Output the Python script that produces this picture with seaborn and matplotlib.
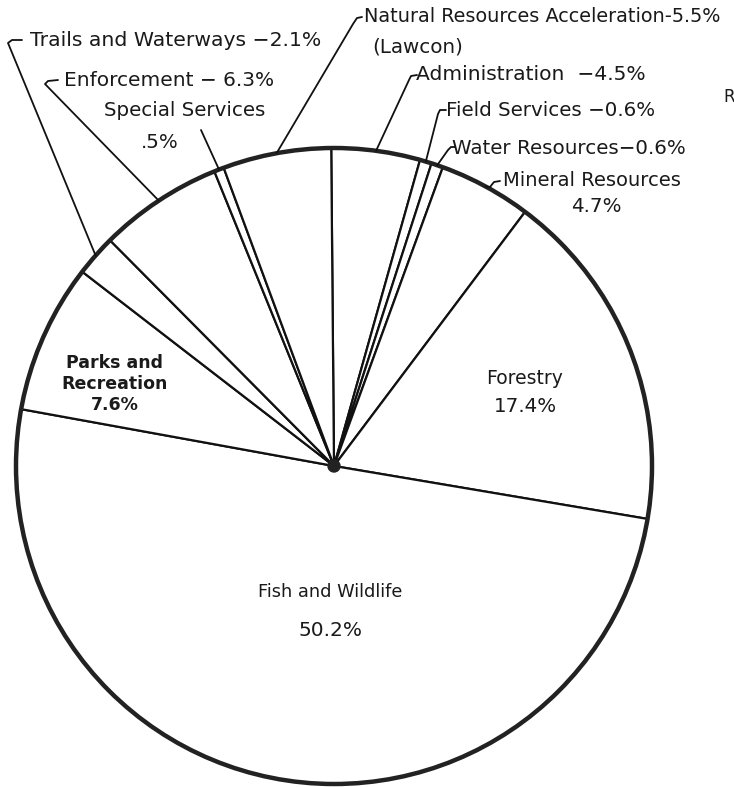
import numpy as np
import matplotlib
matplotlib.use("Agg")
import matplotlib.pyplot as plt
import seaborn as sns

# ---- data (clockwise from 12 o'clock) ----
categories = ["Administration", "Field Services", "Water Resources", "Mineral Resources",
              "Forestry", "Fish and Wildlife", "Parks and Recreation", "Trails and Waterways",
              "Enforcement", "Special Services", "Natural Resources Acceleration"]
shares = [4.5, 0.6, 0.6, 4.7, 17.4, 50.2, 7.6, 2.1, 6.3, 0.5, 5.5]

sns.set_theme(style="white")
plt.rcParams["font.family"] = ["DejaVu Sans"]

W, H = 734, 787
fig = plt.figure(figsize=(W / 100, H / 100), dpi=100)
ax = fig.add_axes([0, 0, 1, 1])

cx, cy, R = 334, H - 466, 318
wedges, _ = ax.pie(shares, startangle=90.5, counterclock=False, center=(cx, cy), radius=R,
                   colors=["white"] * len(shares),
                   wedgeprops=dict(edgecolor="#111111", linewidth=1.6))
ax.add_patch(plt.Circle((cx, cy), R, fill=False, edgecolor="#222222", linewidth=3.2, zorder=5))
ax.add_patch(plt.Circle((cx, cy), 6, color="#222222", zorder=6))
ax.set_xlim(0, W)
ax.set_ylim(0, H)
ax.set_aspect("equal")
ax.axis("off")

def P(x, y):
    return (x, H - y)

fs = 14.3
txt = dict(color="#1a1a1a", fontsize=fs)

def edge_pt(i):
    w = wedges[i]
    a = np.deg2rad((w.theta1 + w.theta2) / 2)
    return cx + R * np.cos(a), cy + R * np.sin(a)

# inside labels
ax.text(*P(525, 378), "Forestry", ha="center", va="center", color="#1a1a1a", fontsize=13.5)
ax.text(*P(525, 407), "17.4%", ha="center", va="center", **txt)
ax.text(*P(330, 592), "Fish and Wildlife", ha="center", va="center", color="#1a1a1a", fontsize=12.8)
ax.text(*P(330, 630), "50.2%", ha="center", va="center", color="#1a1a1a", fontsize=14.5)
ax.text(*P(115, 384), "Parks and\nRecreation\n7.6%", ha="center", va="center", linespacing=1.25,
        color="#1a1a1a", fontsize=12.5, fontweight="bold")

# outside labels with leader lines: (index, text pos, text, size, hook points)
outer = [
    (7, (30, 40), "Trails and Waterways \u22122.1%", 14.7, [(8, 43), (12, 40), (22, 40)]),
    (8, (64, 80), "Enforcement \u2212 6.3%", 14.5, [(45, 84), (48, 81), (58, 80)]),
    (10, (364, 17), "Natural Resources Acceleration-5.5%", 13.9, [(353, 24), (357, 18), (362, 17)]),
    (0, (416, 75), "Administration  \u22124.5%", 14.6, [(409, 80), (411, 76), (417, 75)]),
    (1, (446, 110), "Field Services \u22120.6%", 14.3, [(438, 114), (440, 110), (446, 110)]),
    (2, (452, 148), "Water Resources\u22120.6%", 14.3, [(448, 150), (451, 147), (455, 147)]),
    (3, (503, 181), "Mineral Resources", 14.0, [(490, 187), (494, 182), (500, 181)]),
]
for i, (tx, ty), s, size, hook in outer:
    ax.text(*P(tx, ty), s, ha="left", va="center", color="#1a1a1a", fontsize=size)
    ex, ey = edge_pt(i)
    xs = [ex] + [h[0] for h in hook]
    ys = [ey] + [H - h[1] for h in hook]
    ax.plot(xs, ys, color="#111111", lw=1.3, zorder=7)

ax.text(*P(418, 47), "(Lawcon)", ha="center", va="center", **txt)
ax.text(*P(596, 206), "4.7%", ha="center", va="center", **txt)
ax.text(*P(185, 111), "Special Services", ha="center", va="center", **txt)
ax.text(*P(160, 143), ".5%", ha="center", va="center", **txt)
ex, ey = edge_pt(9)
ax.plot([ex, 201], [ey, H - 130], color="#111111", lw=1.3, zorder=7)

ax.text(*P(729, 97), "R", ha="center", va="center", color="#1a1a1a", fontsize=12)

fig.savefig("out.png", dpi=100, facecolor="white")
